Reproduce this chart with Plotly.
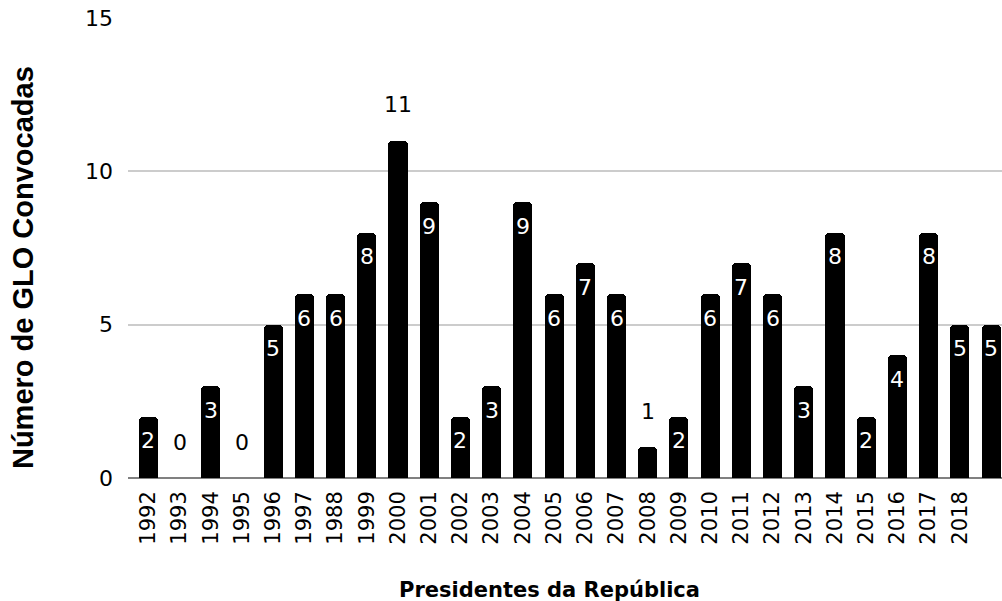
import plotly.graph_objects as go

# Categories (last bar has no label on the axis)
anos = ["1992", "1993", "1994", "1995", "1996", "1997", "1988", "1999", "2000",
        "2001", "2002", "2003", "2004", "2005", "2006", "2007", "2008", "2009",
        "2010", "2011", "2012", "2013", "2014", "2015", "2016", "2017", "2018", ""]
glo = [2, 0, 3, 0, 5, 6, 6, 8, 11, 9, 2, 3, 9, 6, 7, 6, 1, 2, 6, 7, 6, 3, 8, 2,
       4, 8, 5, 5]
y_ticks = [0, 5, 10, 15]

idx = list(range(len(glo)))
font_main = "DejaVu Sans"

fig = go.Figure()
fig.add_trace(go.Bar(
    x=idx, y=glo, width=0.61,
    marker=dict(color="#000000", line=dict(width=0), cornerradius=4),
    hoverinfo="skip",
))

# value labels: white inside bars when they fit, black above otherwise
for i, v in enumerate(glo):
    inside = 2 <= v < 10
    fig.add_annotation(
        x=i, y=v, text=str(v), showarrow=False,
        xref="x", yref="y", yanchor="middle",
        yshift=-24 if inside else 36,
        font=dict(family=font_main, size=22,
                  color="#ffffff" if inside else "#000000"),
    )

# axis titles
fig.add_annotation(
    text="<b>Número de GLO Convocadas</b>", textangle=-90,
    xref="paper", yref="paper", x=-0.1201, y=0.4565,
    xanchor="center", yanchor="middle", showarrow=False,
    font=dict(family="Liberation Sans", size=29, color="#000000"),
)
fig.add_annotation(
    text="<b>Presidentes da República</b>",
    xref="paper", yref="paper", x=0.4822, y=-0.2435,
    xanchor="center", yanchor="middle", showarrow=False,
    font=dict(family=font_main, size=21, color="#000000"),
)

fig.update_layout(
    width=1002, height=601,
    margin=dict(l=128, r=0, t=18, b=123),
    plot_bgcolor="#ffffff", paper_bgcolor="#ffffff",
    showlegend=False,
    bargap=0,
    xaxis=dict(
        range=[-0.65, 27.35],
        tickmode="array", tickvals=idx, ticktext=anos,
        tickangle=-90, ticks="", showgrid=False,
        showline=False, zeroline=False, ticklabelstandoff=8,
        tickfont=dict(family=font_main, size=21, color="#000000"),
    ),
    yaxis=dict(
        range=[0, 15], tickmode="array", tickvals=y_ticks,
        showgrid=True, gridcolor="#cccccc", gridwidth=1.5,
        zeroline=True, zerolinecolor="#808080", zerolinewidth=2,
        ticks="", ticklabelstandoff=14,
        tickfont=dict(family=font_main, size=22, color="#000000"),
    ),
)

fig.write_html("out.html")
